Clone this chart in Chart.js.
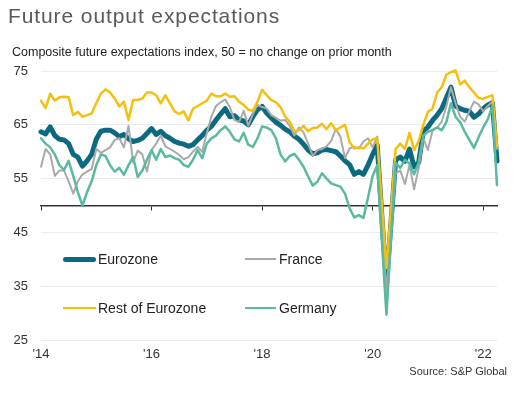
<!DOCTYPE html>
<html>
<head>
<meta charset="utf-8">
<title>Future output expectations</title>
<script src="https://cdn.jsdelivr.net/npm/chart.js@4.4.1/dist/chart.umd.min.js"></script>
<style>
  body { margin: 0; background: #fff; font-family: "Liberation Sans", Arial, sans-serif; }
  #page { position: relative; width: 528px; height: 395px; overflow: hidden; }
  #myChart { position: absolute; left: 0; top: 0; }
  #title { position: absolute; left: 8px; top: 5px; font-size: 21px; line-height: 21px; letter-spacing: 0.9px; color: #58595b; white-space: nowrap; }
  #subtitle { position: absolute; left: 12px; top: 46px; font-size: 12.5px; line-height: 12.5px; color: #222; white-space: nowrap; }
  #source { position: absolute; right: 21px; top: 366px; font-size: 11px; line-height: 11px; color: #333; white-space: nowrap; }
  .item { position: absolute; height: 20px; display: flex; align-items: center; font-size: 14px; color: #222; white-space: nowrap; }
  .swatch { display: inline-block; }
</style>
</head>
<body>
<div id="page">
  <canvas id="myChart" width="528" height="395"></canvas>
  <div id="title">Future output expectations</div>
  <div id="subtitle">Composite future expectations index, 50 = no change on prior month</div>
  <div id="legend"></div>
  <div id="source">Source: S&amp;P Global</div>
</div>
<script>
// monthly, Jan 2014 - Apr 2022
var months = [];
for (var yr = 2014; yr <= 2022; yr++) {
  for (var m = 1; m <= 12; m++) {
    if (months.length < 100) months.push(yr + "-" + (m < 10 ? "0" + m : m));
  }
}
var xTickLabels = ["'14", "'16", "'18", "'20", "'22"];
var seriesNames = ["Eurozone", "France", "Rest of Eurozone", "Germany"];

var eurozone = [
  63.7, 63.3, 64.6, 63.0, 62.3, 62.2, 61.5, 59.5, 59.0, 57.3, 58.3, 59.5,
  62.3, 63.8, 64.0, 64.0, 63.5, 62.8, 63.2, 62.4, 61.9, 62.1, 62.5, 63.4,
  64.3, 63.2, 63.8, 63.0, 62.5, 61.9, 61.6, 61.4, 61.0, 61.3, 62.2, 63.0,
  64.0, 64.7, 65.9, 67.0, 68.0, 66.5, 66.7, 65.9, 65.7, 65.0, 66.5, 67.8,
  68.4, 67.2, 66.3, 65.5, 64.9, 64.2, 63.7, 62.9, 62.3, 61.4, 60.3, 59.6,
  59.8, 60.3, 60.4, 60.2, 60.0, 59.2, 58.3, 57.6, 55.8, 56.3, 55.8, 57.5,
  59.5, 61.2, 48.0, 35.3, 47.0, 58.5, 59.0, 58.2, 60.5, 57.2, 58.0, 63.8,
  64.6, 65.8, 66.8, 68.0, 70.0, 72.0, 68.5, 68.0, 67.7, 67.5, 66.4, 67.0,
  68.0, 68.7, 69.1, 58.3
];
var france = [
  57.2, 60.5, 59.5, 55.5, 56.5, 56.5, 54.5, 52.2, 54.5, 55.8, 56.3, 56.8,
  60.5, 59.8, 60.3, 60.8, 62.2, 62.5, 60.8, 64.8, 58.0, 60.2, 59.5, 56.3,
  60.3, 61.5, 63.0, 61.0, 60.5, 60.0, 59.4, 58.6, 59.0, 60.0, 60.9, 60.0,
  63.5, 66.5, 68.5, 69.2, 69.7, 68.3, 65.9, 65.5, 67.6, 64.8, 67.0, 68.7,
  68.3, 68.0, 66.8, 66.3, 65.8, 65.9, 64.8, 63.0, 64.5, 63.6, 61.5, 59.2,
  60.3, 60.5, 61.0, 62.0, 64.2, 62.8, 58.8, 60.6, 60.9, 60.6, 61.9, 62.5,
  60.8, 62.8, 48.0, 33.8, 45.0, 56.0, 56.5, 54.0, 57.5, 53.0, 57.0, 62.5,
  60.3, 64.0, 64.5, 65.6, 68.4, 72.0, 69.0, 66.5, 65.6, 67.5, 69.3, 68.8,
  67.5, 68.5, 69.3, 60.5
];
var restOfEurozone = [
  69.5, 68.1, 70.8, 69.5, 70.1, 70.2, 70.1, 66.8, 67.4, 66.5, 66.8, 67.1,
  69.0, 70.8, 71.6, 71.0, 69.9, 68.4, 69.3, 65.9, 69.6, 69.6, 69.9, 71.0,
  71.0, 70.5, 69.0, 70.5, 69.0, 67.5, 67.0, 67.5, 65.8, 68.0, 68.5, 69.0,
  69.5, 70.8, 70.3, 70.3, 70.8, 70.2, 70.3, 69.3, 68.7, 67.8, 67.6, 69.3,
  71.5, 70.5, 69.6, 69.2, 68.3, 66.5, 65.6, 63.8, 64.0, 64.8, 63.8, 64.4,
  64.5, 65.2, 64.2, 65.3, 64.0, 64.5, 65.0, 61.8, 60.6, 60.8, 60.6, 61.5,
  62.3, 62.5, 50.5, 38.4, 49.5, 60.5, 61.5, 60.5, 63.5, 60.3, 62.0, 65.0,
  67.4, 68.0, 71.0, 72.0, 74.3, 74.8, 75.1, 72.5, 73.2, 72.0, 71.0, 70.0,
  69.8, 70.2, 70.5, 61.0
];
var germany = [
  62.5, 61.5, 60.8, 59.5, 57.5, 56.6, 58.3, 55.5, 52.5, 50.0, 52.5, 54.5,
  57.5, 59.5, 59.2, 57.5, 56.3, 57.0, 55.7, 57.5, 59.0, 55.3, 56.5, 58.5,
  60.3, 58.5, 60.5, 59.0, 59.3, 58.8, 58.5, 57.5, 57.2, 58.5, 60.3, 58.8,
  61.5, 62.5, 63.0, 64.0, 64.7, 63.7, 62.3, 61.9, 63.5, 61.3, 60.9, 62.5,
  64.7, 64.5, 64.0, 62.5, 59.5, 58.2, 59.2, 59.6, 58.5, 57.2, 55.4, 53.7,
  54.4, 56.0, 55.0, 54.1, 53.8, 53.5, 52.2, 49.5, 47.8, 48.2, 47.7, 51.5,
  55.5, 57.5, 43.5, 29.7, 44.0, 58.0, 57.0, 58.5, 57.8, 55.8, 58.0, 63.0,
  63.7, 64.0, 64.5, 64.0, 65.5, 69.0, 66.5, 65.5, 63.7, 62.2, 60.7, 62.7,
  64.5, 66.0, 68.5, 53.8
];

var colors = ["#0b6a80", "#a9a9a9", "#f5bf0f", "#5ab9a1"];
var widths = [5, 2, 2.5, 2.5];

// legend (2 x 2 inside plot)
var legendPos = [[63, 249, 33, 2], [245, 249, 31, 3], [63, 298, 33, 2], [245, 298, 31, 3]];
var legend = document.getElementById("legend");
seriesNames.forEach(function (name, i) {
  var item = document.createElement("div");
  item.className = "item";
  item.style.left = legendPos[i][0] + "px";
  item.style.top = legendPos[i][1] + "px";
  var sw = document.createElement("span");
  sw.className = "swatch";
  sw.style.width = legendPos[i][2] + "px";
  sw.style.marginRight = legendPos[i][3] + "px";
  sw.style.height = widths[i] + "px";
  sw.style.background = colors[i];
  sw.style.borderRadius = i === 0 ? "3px" : "0";
  item.appendChild(sw);
  item.appendChild(document.createTextNode(name));
  legend.appendChild(item);
});

var font = { family: "'Liberation Sans', Arial, sans-serif", size: 13 };
var ctx = document.getElementById("myChart").getContext("2d");
var chart = new Chart(ctx, {
  type: "line",
  data: {
    labels: months,
    datasets: [
      { label: seriesNames[0], data: eurozone, borderColor: colors[0], borderWidth: widths[0], order: 4, xAxisID: "x", clip: 6 },
      { label: seriesNames[1], data: france, borderColor: colors[1], borderWidth: widths[1], order: 3, xAxisID: "x", clip: 6 },
      { label: seriesNames[2], data: restOfEurozone, borderColor: colors[2], borderWidth: widths[2], order: 2, xAxisID: "x", clip: 6 },
      { label: seriesNames[3], data: germany, borderColor: colors[3], borderWidth: widths[3], order: 1, xAxisID: "x", clip: 6 },
    ],
  },
  options: {
    responsive: false,
    animation: false,
    layout: { padding: { left: 0, top: 71, right: 31, bottom: 25 } },
    elements: {
      point: { radius: 0 },
      line: { tension: 0, fill: false, borderJoinStyle: "round", borderCapStyle: "round" },
    },
    plugins: { legend: { display: false }, tooltip: { enabled: false } },
    scales: {
      x: {
        afterFit: function (scale) { scale.height = 30; },
        grid: { display: false, drawTicks: false },
        border: { display: false },
        ticks: {
          autoSkip: false,
          maxRotation: 0,
          padding: 7,
          color: "#333",
          font: font,
          callback: function (val, i) { return i % 24 === 0 ? xTickLabels[i / 24] : ""; },
        },
      },
      x2: {
        type: "category",
        position: { y: 50 },
        grid: {
          drawOnChartArea: false,
          drawTicks: true,
          tickLength: 4,
          color: function (c) { return c.index % 24 === 0 ? "#333" : "rgba(0,0,0,0)"; },
        },
        border: { display: true, color: "#333", width: 1.5 },
        ticks: { display: false },
      },
      y: {
        min: 25,
        max: 75,
        afterFit: function (scale) { scale.width = 41; },
        grid: { color: "#ebebeb", drawTicks: false },
        border: { display: false },
        ticks: { stepSize: 10, padding: 13, color: "#333", font: font },
      },
    },
  },
});
</script>
</body>
</html>
